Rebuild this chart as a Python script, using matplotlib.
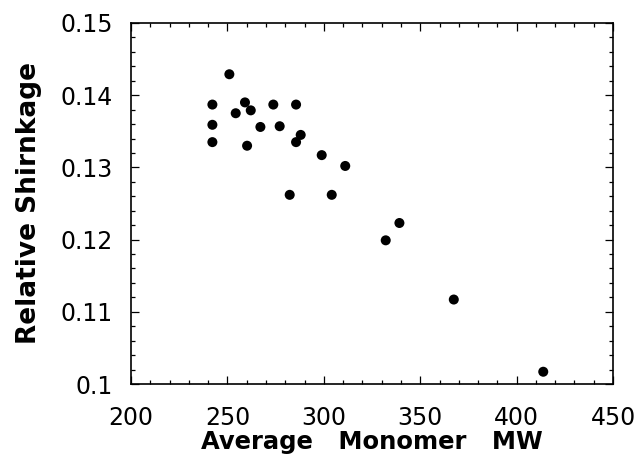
import numpy as np
import matplotlib.pyplot as plt
from matplotlib.ticker import MultipleLocator, FixedLocator, FixedFormatter

# average monomer molecular weight and measured relative shrinkage
monomer_mw = [251.0, 242.2, 242.2, 242.2, 254.3, 259.1, 262.1, 260.2, 267.1, 273.8, 277.1,
              285.6, 288.0, 285.6, 298.9, 311.1, 282.3, 304.1, 332.1, 339.2, 367.4, 413.8]
shrinkage = [0.1429, 0.1387, 0.1359, 0.1335, 0.1375, 0.1390, 0.1379, 0.1330, 0.1356, 0.1387, 0.1357,
             0.1387, 0.1345, 0.1335, 0.1317, 0.1302, 0.1262, 0.1262, 0.1199, 0.1223, 0.1117, 0.1017]

x_ticks = [200, 250, 300, 350, 400, 450]
y_ticks = [0.10, 0.11, 0.12, 0.13, 0.14, 0.15]
y_tick_labels = ["0.1", "0.11", "0.12", "0.13", "0.14", "0.15"]

fig = plt.figure(figsize=(6.41, 4.55), dpi=100)
ax = fig.add_axes([0.2044, 0.156, 0.752, 0.7935])

ax.scatter(monomer_mw, shrinkage, s=52, color="black", edgecolors="none", zorder=3)

ax.set_xlim(200, 450)
ax.set_ylim(0.10, 0.15)

ax.xaxis.set_major_locator(FixedLocator(x_ticks))
ax.xaxis.set_minor_locator(MultipleLocator(10))
ax.yaxis.set_major_locator(FixedLocator(y_ticks))
ax.yaxis.set_major_formatter(FixedFormatter(y_tick_labels))
ax.yaxis.set_minor_locator(MultipleLocator(0.002))

ax.tick_params(which="both", direction="in", top=True, right=True, width=0.9, labelsize=17)
ax.tick_params(which="major", length=6)
ax.tick_params(which="minor", length=3)
ax.tick_params(axis="x", pad=16)
ax.tick_params(axis="y", pad=13)

for spine in ax.spines.values():
    spine.set_linewidth(1.2)

ax.set_xlabel("Average   Monomer   MW", fontsize=17.5, fontweight="bold", labelpad=0)
ax.set_ylabel("Relative Shirnkage", fontsize=19, fontweight="bold", labelpad=13)

fig.savefig("out.png", dpi=100)
